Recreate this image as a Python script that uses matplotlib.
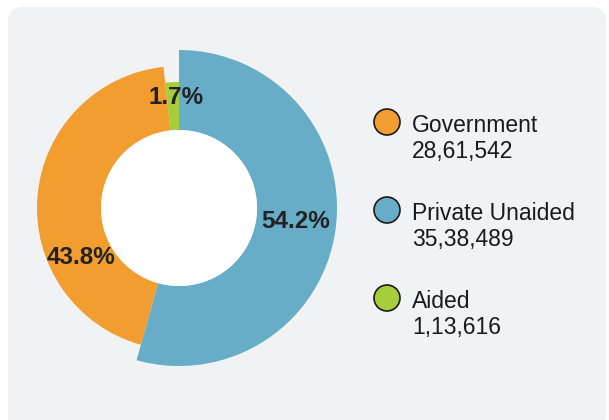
import matplotlib
matplotlib.use("Agg")
import matplotlib.pyplot as plt
from matplotlib.patches import Wedge, FancyBboxPatch, Circle

categories = ["Government", "Private Unaided", "Aided"]
counts = [2861542, 3538489, 113616]
count_labels = ["28,61,542", "35,38,489", "1,13,616"]
pct_labels = ["43.8%", "54.2%", "1.7%"]
colors = ["#f29d2f", "#67adc8", "#a6cd3a"]

W, H = 609, 420
fig = plt.figure(figsize=(W / 100, H / 100), dpi=100)
ax = fig.add_axes([0, 0, 1, 1])
ax.set_xlim(0, W)
ax.set_ylim(0, H)
ax.set_aspect("equal")
ax.axis("off")

def Y(py):
    return H - py

# background card
ax.add_patch(FancyBboxPatch((8, Y(430)), 598, 423, boxstyle="round,pad=0,rounding_size=15",
                            facecolor="#f1f2f4", edgecolor="none", zorder=0))

cx, cy = 179, Y(208)
inner = 78
outer = {"Private Unaided": 158, "Government": 142, "Aided": 126}

total = sum(counts)
# clockwise from top: Private Unaided, Government, Aided
order = [1, 0, 2]
start = 90.0
for i in order:
    span = 360.0 * counts[i] / total
    r = outer[categories[i]]
    ax.add_patch(Wedge((cx, cy), r, start - span, start, width=r - inner,
                       facecolor=colors[i], edgecolor="none", zorder=2))
    start -= span

# inner hole
ax.add_patch(Circle((cx, cy), inner, facecolor="white", edgecolor="none", zorder=3))

# percentage labels
label_pos = {"Private Unaided": (296, 222), "Government": (81, 257), "Aided": (176, 97)}
for i, cat in enumerate(categories):
    px, py = label_pos[cat]
    ax.text(px, Y(py), pct_labels[i], ha="center", va="center", fontsize=17.5,
            fontweight="bold", family="Liberation Sans", color="#222222", zorder=4)

# legend
leg_y = [122, 210, 298]
for i, cat in enumerate(categories):
    ax.add_patch(Circle((387, Y(leg_y[i])), 13, facecolor=colors[i], edgecolor="#1a1a1a",
                        linewidth=1.2, zorder=4))
    ax.text(412, Y(leg_y[i] + 10), cat, ha="left", va="baseline", fontsize=16.5,
            family="Liberation Sans", color="#1a1a1a")
    ax.text(412, Y(leg_y[i] + 36), count_labels[i], ha="left", va="baseline", fontsize=16.5,
            family="Liberation Sans", color="#1a1a1a")

fig.savefig("out.png", dpi=100, facecolor="white")
